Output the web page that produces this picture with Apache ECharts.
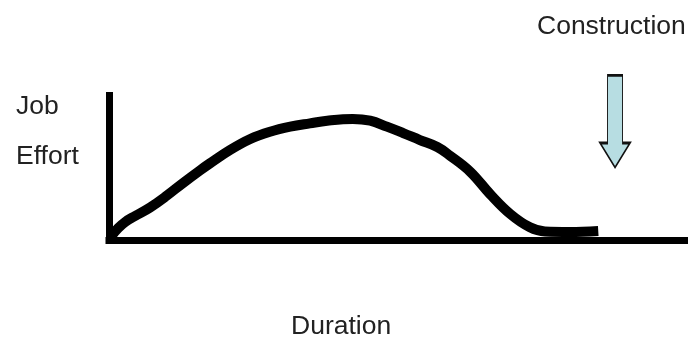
<!DOCTYPE html>
<html>
<head>
<meta charset="utf-8">
<script src="https://cdn.jsdelivr.net/npm/echarts@6/dist/echarts.min.js"></script>
<style>
  html, body { margin: 0; padding: 0; background: #fff; }
  #chart { width: 688px; height: 338px; }
</style>
</head>
<body>
<div id="chart"></div>
<script>
// duration (0-100) and job effort (0-100)
var duration = [0.4, 1.6, 2.8, 4.5, 7.1, 10.0, 12.8, 15.7, 17.4, 20.9, 24.4, 27.8, 31.3, 34.7, 37.7, 42.1, 45.1, 48.0, 50.8, 53.7, 56.7, 58.9, 62.4, 65.8, 69.3, 72.7, 75.3, 79.6, 84.5];
var effort   = [3.1, 8.6, 12.8, 16.9, 22.8, 31.0, 39.7, 48.3, 53.1, 62.4, 70.0, 75.0, 78.5, 80.8, 82.6, 83.8, 82.6, 78.5, 74.1, 69.3, 64.5, 58.5, 47.4, 32.1, 18.3, 9.1, 6.2, 5.9, 6.6];
// where the construction arrow points
var constructionAt = [87.4, 82.1];

var labels = {
    y1: 'Job',
    y2: 'Effort',
    x: 'Duration',
    marker: 'Construction'
};

var points = [];
for (var i = 0; i < duration.length; i++) {
    points.push([duration[i], effort[i]]);
}

var font = {
    fontSize: 26.5,
    fontWeight: 'normal',
    color: '#222',
    fontFamily: 'Liberation Sans, Arial, sans-serif'
};

var chart = echarts.init(document.getElementById('chart'));
var option = {
    backgroundColor: '#fff',
    animation: false,
    title: [
        { text: labels.y1, left: 16, top: 93, padding: 0, textStyle: font },
        { text: labels.y2, left: 16, top: 143, padding: 0, textStyle: font },
        { text: labels.marker, left: 537, top: 13, padding: 0, textStyle: font },
        { text: labels.x, left: 291, top: 313, padding: 0, textStyle: font }
    ],
    grid: { left: 109, right: 0, top: 95.5, bottom: 97.5 },
    xAxis: {
        type: 'value',
        min: 0,
        max: 100,
        axisLine: { show: true, lineStyle: { color: '#000', width: 7, cap: 'square' } },
        axisTick: { show: false },
        axisLabel: { show: false },
        splitLine: { show: false }
    },
    yAxis: {
        type: 'value',
        min: 0,
        max: 100,
        axisLine: { show: true, lineStyle: { color: '#000', width: 7, cap: 'square' } },
        axisTick: { show: false },
        axisLabel: { show: false },
        splitLine: { show: false }
    },
    series: [
        {
            type: 'line',
            data: points,
            smooth: 0.4,
            showSymbol: false,
            symbol: 'none',
            lineStyle: { color: '#000', width: 10, cap: 'butt', join: 'round' },
            z: 3,
            markPoint: {
                silent: true,
                label: { show: false },
                data: [
                    {
                        coord: constructionAt,
                        symbol: 'path://M8 0 L24 0 L24 69 L32 69 L16 94 L0 69 L8 69 Z',
                        symbolSize: [30, 92],
                        itemStyle: { color: '#b7dde2', borderColor: '#111', borderWidth: 1.6 }
                    }
                ]
            }
        }
    ]
};
chart.setOption(option);
</script>
</body>
</html>
